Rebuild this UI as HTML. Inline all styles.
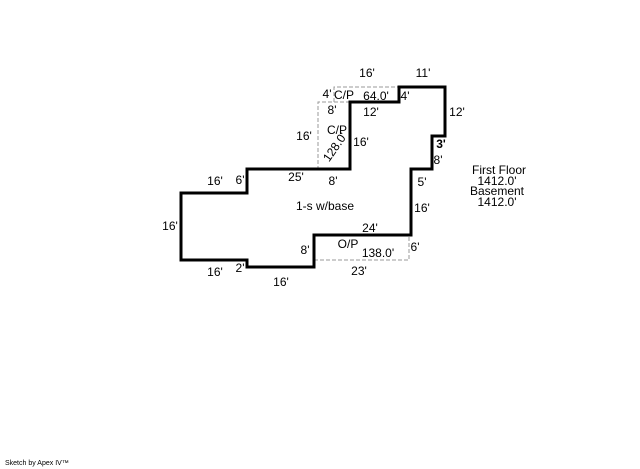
<!DOCTYPE html>
<html><head><style>body{margin:0;background:#fff}svg{display:block}</style></head><body>
<svg width="640" height="469" viewBox="0 0 640 469" xmlns="http://www.w3.org/2000/svg" font-family="Liberation Sans, sans-serif" font-size="12" fill="#000">
<rect width="640" height="469" fill="#fff"/>
<g fill="none" stroke="#999" stroke-width="1" stroke-dasharray="4,2">
<polyline points="334,102 334,87 399,87"/>
<polyline points="350,102 318,102 318,169"/>
<polyline points="314,260 409,260 409,235"/>
</g>
<polygon fill="none" stroke="#000" stroke-width="3" points="181,260 247,260 247,267 314,267 314,235 411,235 411,169 432,169 432,136 445,136 445,87 399,87 399,102 350,102 350,169 247,169 247,193 181,193"/>
<g text-anchor="middle">
<text x="367" y="77">16'</text>
<text x="423" y="77">11'</text>
<text x="327" y="98">4'</text>
<text x="344" y="99">C/P</text>
<text x="376" y="100">64.0'</text>
<text x="405" y="100">4'</text>
<text x="332" y="114">8'</text>
<text x="371" y="116">12'</text>
<text x="457" y="116">12'</text>
<text x="337" y="134">C/P</text>
<text x="335" y="151" transform="rotate(-55 335 147)">128.0'</text>
<text x="304" y="140">16'</text>
<text x="361" y="146">16'</text>
<text x="441" y="148" font-weight="bold">3'</text>
<text x="438" y="164">8'</text>
<text x="215" y="185">16'</text>
<text x="240" y="184">6'</text>
<text x="296" y="181">25'</text>
<text x="333" y="185">8'</text>
<text x="422" y="186">5'</text>
<text x="325" y="210">1-s w/base</text>
<text x="422" y="212">16'</text>
<text x="170" y="230">16'</text>
<text x="370" y="232">24'</text>
<text x="348" y="248">O/P</text>
<text x="378" y="257">138.0'</text>
<text x="415" y="251">6'</text>
<text x="305" y="254">8'</text>
<text x="215" y="276">16'</text>
<text x="240" y="272">2'</text>
<text x="281" y="286">16'</text>
<text x="359" y="275">23'</text>
<text x="499" y="174">First Floor</text>
<text x="497" y="185">1412.0'</text>
<text x="497" y="195">Basement</text>
<text x="497" y="206">1412.0'</text>
</g>
<text x="5" y="465" font-size="7">Sketch by Apex IV™</text>
</svg>
</body></html>
